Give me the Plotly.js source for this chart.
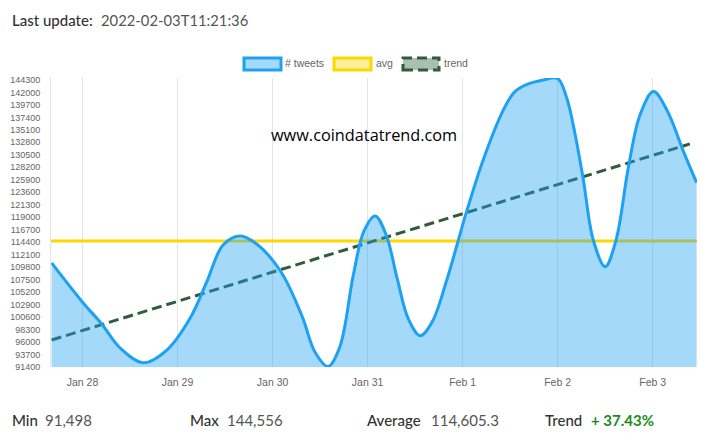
<!DOCTYPE html>
<html>
<head>
<meta charset="utf-8">
<script src="https://cdn.plot.ly/plotly-3.0.1.min.js"></script>
<style>html,body{margin:0;padding:0;background:#fff}#chart{width:709px;height:441px}</style>
</head>
<body>
<div id="chart"></div>
<script>
// Hours since Jan 28 00:00 and tweet counts
const tweetHours = [-7.8,-0.1,4.85,9.5,15.4,21.3,27.2,31.4,35.5,39.8,44.3,50.3,55.5,58.7,62,65,68.4,71.1,73.9,76.7,79.5,82.3,85.3,88.3,92,97,101.2,106.3,109.2,112.6,116.4,120,122.3,124.4,126.5,129,132,134.7,137.9,140.8,144.2,147.7,151.8,155.1];
const tweetCounts = [110570,103435,99325,94900,92190,94530,100430,107120,113885,115545,113885,108725,100670,94165,91498,95140,108360,116465,119230,115728,107618,100246,97170,99694,107430,120020,129550,138765,142140,143560,144290,144556,140980,134342,125860,114806,109885,114620,128315,137844,142140,138581,131080,125366];
const avgHours = [-7.96,155.2];
const avgValues = [114605.3,114605.3];
const trendHours = [-7.8,153.4];
const trendValues = [96376,132500];
const yTicks = [91400,93700,96000,98300,100600,102900,105200,107500,109800,112100,114400,116700,119000,121300,123600,125900,128200,130500,132800,135100,137400,139700,142000,144300];
const xTickDays = ['2022-01-28','2022-01-29','2022-01-30','2022-01-31','2022-02-01','2022-02-02','2022-02-03'];
const xTickLabels = ['Jan 28','Jan 29','Jan 30','Jan 31','Feb 1','Feb 2','Feb 3'];

const W = 709, H = 441, L = 51, R = 12, T = 78, B = 74;
const base = Date.UTC(2022,0,28);
const toDate = h => new Date(base + h*3600000).toISOString().replace('Z','');
const px = x => (x-L)/(W-L-R);
const py = y => 1-(y-T)/(H-T-B);

const BLUE='#1DA1F2', GOLD='#FFD700', GREEN='#2F5D3A';
const sans='Lato, "Noto Sans", sans-serif';
const txt=(x,y,text,size,color,weight,family)=>({xref:'paper',yref:'paper',x:px(x),y:py(y),xanchor:'left',yanchor:'middle',showarrow:false,text:text,
  font:{size:size,color:color,weight:weight||400,family:family||sans},borderpad:0,align:'left'});
const box=(x0,x1,line,fill,dash)=>({type:'rect',layer:'above',xref:'paper',yref:'paper',x0:px(x0),x1:px(x1),y0:py(70),y1:py(58),
  line:{color:line,width:3,dash:dash||'solid'},fillcolor:fill});

const traces=[
 {x:avgHours.map(toDate),y:avgValues,mode:'lines',line:{color:GOLD,width:3},hoverinfo:'skip'},
 {x:trendHours.map(toDate),y:trendValues,mode:'lines',line:{color:GREEN,width:3,dash:'10px,5px'},hoverinfo:'skip'},
 {x:tweetHours.map(toDate),y:tweetCounts,mode:'lines',line:{color:BLUE,width:3,shape:'spline',smoothing:1},fill:'tozeroy',fillcolor:'rgba(29,161,242,0.4)',hoverinfo:'skip'}
];
const layout={
 width:W,height:H,margin:{l:L,r:R,t:T,b:B,pad:0},showlegend:false,paper_bgcolor:'#fff',plot_bgcolor:'#fff',
 font:{family:'"Liberation Sans",Arial,sans-serif',color:'#666'},
 xaxis:{type:'date',range:[toDate(-7.96),toDate(155.2)],tickmode:'array',tickvals:xTickDays,ticktext:xTickLabels,
   showgrid:true,gridcolor:'rgba(0,0,0,0.1)',gridwidth:1,zeroline:false,showline:false,ticks:'outside',ticklen:5,tickcolor:'rgba(0,0,0,0)',tickfont:{size:10.5,color:'#666'}},
 yaxis:{range:[91400,144650],tickmode:'array',tickvals:yTicks,ticktext:yTicks.map(String),showgrid:false,zeroline:false,
   showline:true,linecolor:'rgba(0,0,0,0.1)',linewidth:1,ticks:'outside',ticklen:8,tickcolor:'rgba(0,0,0,0)',tickfont:{size:9,color:'#666'}},
 shapes:[box(244,281,BLUE,'rgba(29,161,242,0.4)'),box(334,371,GOLD,'rgba(255,215,0,0.4)'),box(403,439,GREEN,'rgba(47,93,58,0.4)','10px,5px')],
 annotations:[
  txt(11,20,'Last update:',15,'#333',500),
  txt(100,20,'2022-02-03T11:21:36',14.8,'#555',400),
  txt(284,63,'# tweets',10.5,'#666',400,'"Liberation Sans",Arial,sans-serif'),
  txt(375,63,'avg',10.5,'#666',400,'"Liberation Sans",Arial,sans-serif'),
  txt(443,63,'trend',10.5,'#666',400,'"Liberation Sans",Arial,sans-serif'),
  txt(270,135,'www.coindatatrend.com',16.3,'#000',400,'"Open Sans","Noto Sans",sans-serif'),
  txt(11,420,'Min',15,'#333',500),
  txt(44,420,'91,498',15,'#555',400),
  txt(189,420,'Max',15,'#333',500),
  txt(226,420,'144,556',15,'#555',400),
  txt(366,420,'Average',15,'#333',500),
  txt(430,420,'114,605.3',15,'#555',400),
  txt(544,420,'Trend',15,'#333',500),
  txt(590,420,'+ 37.43%',15,'#1a8a1a',700)
 ]
};
Plotly.newPlot('chart',traces,layout,{displayModeBar:false,staticPlot:true});
</script>
</body>
</html>
